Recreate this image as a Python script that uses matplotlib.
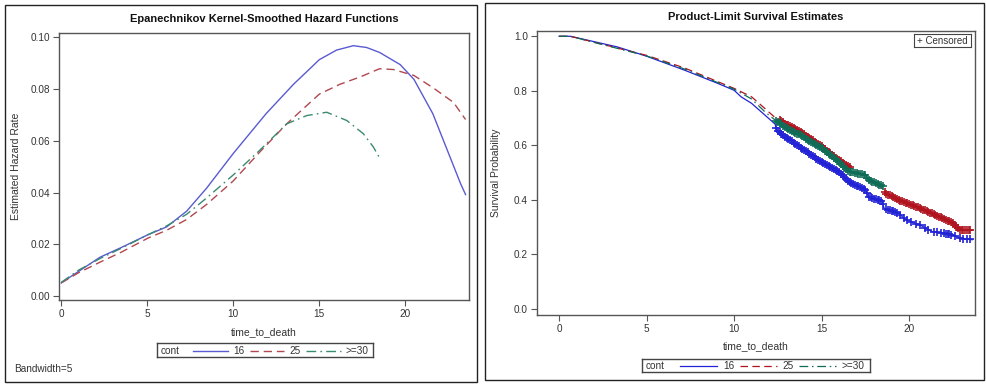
import numpy as np
import matplotlib
matplotlib.use("Agg")
import matplotlib.pyplot as plt
from matplotlib.patches import Rectangle
from matplotlib.lines import Line2D

plt.rcParams['font.family'] = ['Liberation Sans', 'DejaVu Sans']

# ---------------- data ----------------
groups = ['16', '25', '>=30']
legend_title = 'cont'

# Kernel-smoothed hazard (left panel)
haz_t16 = [0, 1, 2.25, 3.5, 5.04, 6.12, 7.29, 8.45, 10.0, 11.9, 13.5, 14.26, 15.0, 16.0,
           16.98, 17.75, 18.5, 19.7, 20.5, 21.6, 22.4, 23.2, 23.5]
haz_16 = [0.0051, 0.0095, 0.0150, 0.0188, 0.0237, 0.0267, 0.0328, 0.0417, 0.0551, 0.0704,
          0.0818, 0.0866, 0.0913, 0.0950, 0.0967, 0.0960, 0.0941, 0.0894, 0.0837, 0.0704,
          0.0570, 0.0436, 0.0392]
haz_t25 = [0, 1, 2.25, 3.5, 5.04, 6.12, 7.29, 8.45, 10.0, 11.55, 13.1, 15.0, 16.2, 17.4,
           18.5, 19.3, 20.5, 21.6, 22.8, 23.5]
haz_25 = [0.0051, 0.0090, 0.0131, 0.0170, 0.0224, 0.0254, 0.0296, 0.0354, 0.0445, 0.0557,
          0.0665, 0.0780, 0.0818, 0.0847, 0.0878, 0.0875, 0.0852, 0.0805, 0.0748, 0.0682]
haz_t30 = [0, 1, 2.25, 3.5, 5.04, 6.12, 7.29, 8.45, 10.0, 11.55, 13.1, 14.26, 15.43, 16.6,
           17.56, 18.14, 18.5]
haz_30 = [0.0053, 0.0100, 0.0145, 0.0185, 0.0237, 0.0271, 0.0316, 0.0379, 0.0468, 0.0564,
          0.0665, 0.0697, 0.0710, 0.0678, 0.0627, 0.0576, 0.0534]

# Product-limit survival (right panel)
surv_t16 = [0, 0.65, 3.33, 5.0, 7.16, 9.08, 10.0, 10.4, 11.0, 11.76, 12.34, 12.43, 12.9,
            13.87, 15.02, 15.98, 16.55, 17.5, 17.7, 18.47, 18.56, 19.4, 19.8, 20.6, 21.3,
            22.5, 22.9, 23.6]
surv_16 = [1.0, 1.0, 0.961, 0.927, 0.876, 0.827, 0.802, 0.778, 0.754, 0.711, 0.678, 0.656,
           0.632, 0.589, 0.537, 0.504, 0.467, 0.437, 0.412, 0.394, 0.370, 0.351, 0.327,
           0.309, 0.284, 0.272, 0.260, 0.254]
surv_t25 = [0, 0.65, 5.0, 7.16, 10.0, 11.0, 11.76, 12.34, 12.9, 13.87, 15.02, 15.98, 16.55,
            17.5, 18.47, 18.66, 19.4, 20.6, 21.3, 22.1, 22.5, 22.9, 23.6]
surv_25 = [1.0, 1.0, 0.930, 0.884, 0.809, 0.778, 0.735, 0.702, 0.680, 0.646, 0.595, 0.546,
           0.522, 0.488, 0.443, 0.424, 0.400, 0.370, 0.351, 0.327, 0.315, 0.290, 0.288]
surv_t30 = [0, 0.65, 5.0, 7.16, 10.0, 11.0, 11.76, 12.34, 12.9, 13.87, 15.02, 15.98, 16.55,
            17.5, 17.7, 18.47, 18.56]
surv_30 = [1.0, 1.0, 0.928, 0.880, 0.806, 0.770, 0.723, 0.693, 0.668, 0.634, 0.589, 0.540,
           0.504, 0.491, 0.473, 0.451, 0.449]

# censoring times
cens_16 = [12.4, 12.5, 12.6, 12.7, 12.8, 12.9, 13.0, 13.1, 13.2, 13.3, 13.4, 13.5, 13.6,
           13.7, 13.8, 13.9, 14.0, 14.1, 14.2, 14.3, 14.4, 14.5, 14.6, 14.7, 14.8, 14.9,
           15.0, 15.1, 15.2, 15.3, 15.4, 15.5, 15.6, 15.7, 15.8, 15.9, 16.0, 16.1, 16.2,
           16.3, 16.4, 16.5, 16.6, 16.7, 16.8, 16.9, 17.0, 17.1, 17.2, 17.3, 17.4, 17.5,
           17.6, 17.7, 17.8, 17.9, 18.0, 18.1, 18.2, 18.3, 18.4, 18.5, 18.7, 18.8, 18.9,
           19.0, 19.1, 19.2, 19.3, 19.5, 19.7, 19.9, 20.1, 20.4, 20.6, 20.9, 21.1, 21.4,
           21.6, 21.8, 22.0, 22.1, 22.2, 22.3, 22.4, 22.6, 22.9, 23.1, 23.3, 23.5]
cens_25 = [12.6, 12.7, 12.8, 12.9, 13.0, 13.1, 13.2, 13.3, 13.4, 13.5, 13.6, 13.7, 13.8,
           13.9, 14.0, 14.1, 14.2, 14.3, 14.4, 14.5, 14.6, 14.7, 14.8, 14.9, 15.0, 15.1,
           15.2, 15.3, 15.4, 15.5, 15.6, 15.7, 15.8, 15.9, 16.0, 16.1, 16.2, 16.3, 16.4,
           16.5, 16.6, 18.6, 18.7, 18.8, 18.9, 19.0, 19.1, 19.2, 19.3, 19.4, 19.5, 19.6,
           19.7, 19.8, 19.9, 20.0, 20.1, 20.2, 20.3, 20.4, 20.5, 20.6, 20.7, 20.8, 20.9,
           21.0, 21.1, 21.2, 21.3, 21.4, 21.5, 21.6, 21.7, 21.8, 21.9, 22.0, 22.1, 22.2,
           22.3, 22.4, 22.5, 22.6, 22.7, 22.8, 22.9, 23.0, 23.1, 23.2, 23.3, 23.4, 23.5]
cens_30 = [12.4, 12.5, 12.6, 12.7, 12.8, 12.9, 13.0, 13.1, 13.2, 13.3, 13.4, 13.5, 13.6,
           13.7, 13.8, 13.9, 14.0, 14.1, 14.2, 14.3, 14.4, 14.5, 14.6, 14.7, 14.8, 14.9,
           15.0, 15.1, 15.2, 15.3, 15.4, 15.5, 15.6, 15.7, 15.8, 15.9, 16.0, 16.1, 16.2,
           16.3, 16.4, 16.5, 16.6, 16.7, 16.8, 16.9, 17.0, 17.1, 17.2, 17.3, 17.4, 17.5,
           17.6, 17.7, 17.8, 17.9, 18.0, 18.1, 18.2, 18.3, 18.4, 18.5]

x_ticks = [0, 5, 10, 15, 20]
haz_yticks = [0.00, 0.02, 0.04, 0.06, 0.08, 0.10]
surv_yticks = [0.0, 0.2, 0.4, 0.6, 0.8, 1.0]

# ---------------- style ----------------
W, H = 986, 384
fig = plt.figure(figsize=(W / 100, H / 100), dpi=100)
TXT = '#333333'
SP = '#555555'
FS_TICK = 7.2
FS_LAB = 7.5
FS_TITLE = 8.0

haz_colors = ['#5a5ad2', '#b2474f', '#3a8a70']
surv_colors = ['#2323d6', '#b0141f', '#0f6d57']
styles = ['-', (0, (6, 3.5)), (0, (7, 3, 1.2, 3))]


def px_axes(x0, y0, x1, y1):
    return fig.add_axes([x0 / W, 1 - y1 / H, (x1 - x0) / W, (y1 - y0) / H])


def style_ax(ax):
    for s in ax.spines.values():
        s.set_color(SP)
        s.set_linewidth(1.0)
    ax.tick_params(direction='out', length=4, width=0.8, color=SP,
                   labelsize=FS_TICK, labelcolor=TXT, pad=2.5)


def border(x0, y0, x1, y1):
    fig.patches.append(Rectangle((x0 / W, 1 - y1 / H), (x1 - x0) / W, (y1 - y0) / H,
                                 transform=fig.transFigure, fill=False,
                                 edgecolor='#222222', linewidth=1.0))


def draw_legend(x0, y0, x1, y1, colors, lw):
    lax = px_axes(x0, y0, x1, y1)
    lax.set_xlim(x0, x1)
    lax.set_ylim(y1, y0)
    lax.set_xticks([])
    lax.set_yticks([])
    for s in lax.spines.values():
        s.set_color('#444444')
        s.set_linewidth(1.0)
    ym = (y0 + y1) / 2 + 0.5
    w = x1 - x0
    lax.text(x0 + 0.015 * w, ym, legend_title, fontsize=FS_TICK, color=TXT, va='center', ha='left')
    seg = [(0.165, 0.33), (0.43, 0.59), (0.69, 0.85)]
    for (a, b), c, ls, lab in zip(seg, colors, styles, groups):
        lax.add_line(Line2D([x0 + a * w, x0 + b * w], [ym, ym], color=c, linestyle=ls, lw=lw))
        lax.text(x0 + (b + 0.025) * w, ym, lab, fontsize=FS_TICK, color=TXT, va='center', ha='left')


# ---------------- left panel ----------------
border(5, 5, 477, 382)
ax1 = px_axes(59, 33, 469, 300)
style_ax(ax1)
for t, v, c, ls in zip([haz_t16, haz_t25, haz_t30], [haz_16, haz_25, haz_30], haz_colors, styles):
    ax1.plot(t, v, color=c, linestyle=ls, lw=1.0)
ax1.set_xlim(-0.13, 23.7)
ax1.set_ylim(-0.0015, 0.1016)
ax1.set_xticks(x_ticks)
ax1.set_xticklabels([str(v) for v in x_ticks])
ax1.set_yticks(haz_yticks)
ax1.set_yticklabels([f'{v:.2f}' for v in haz_yticks])
ax1.set_title('Epanechnikov Kernel-Smoothed Hazard Functions', fontsize=FS_TITLE,
              fontweight='bold', color='#111111', pad=8)
ax1.set_xlabel('time_to_death', fontsize=FS_LAB, color=TXT)
ax1.set_ylabel('Estimated Hazard Rate', fontsize=FS_LAB, color=TXT)
ax1.xaxis.set_label_coords(0.5, -0.10)
ax1.yaxis.set_label_coords(-0.092, 0.5)
draw_legend(157, 343, 373, 357, haz_colors, 1.0)
fig.text(14 / W, 1 - 369 / H, 'Bandwidth=5', fontsize=FS_TICK, color=TXT, va='center', ha='left')

# ---------------- right panel ----------------
border(485, 3, 984, 380)
ax2 = px_axes(537, 31, 975, 315)
style_ax(ax2)
for t, v, cens, c, ls in zip([surv_t16, surv_t25, surv_t30], [surv_16, surv_25, surv_30],
                             [cens_16, cens_25, cens_30], surv_colors, styles):
    ax2.plot(t, v, color=c, linestyle=ls, lw=0.9)
    cy = np.interp(cens, t, v)
    ax2.plot(cens, cy, linestyle='none', marker='+', markersize=6, mew=1.2, color=c)
ax2.set_xlim(-1.26, 23.76)
ax2.set_ylim(-0.022, 1.0194)
ax2.set_xticks(x_ticks)
ax2.set_xticklabels([str(v) for v in x_ticks])
ax2.set_yticks(surv_yticks)
ax2.set_yticklabels([f'{v:.1f}' for v in surv_yticks])
ax2.set_title('Product-Limit Survival Estimates', fontsize=FS_TITLE, fontweight='bold',
              color='#111111', pad=8)
ax2.set_xlabel('time_to_death', fontsize=FS_LAB, color=TXT)
ax2.set_ylabel('Survival Probability', fontsize=FS_LAB, color=TXT)
ax2.xaxis.set_label_coords(0.5, -0.092)
ax2.yaxis.set_label_coords(-0.082, 0.5)
draw_legend(642, 359, 870, 372, surv_colors, 0.9)

# censored box
cax = px_axes(914, 34, 971, 47)
cax.set_xticks([])
cax.set_yticks([])
for s in cax.spines.values():
    s.set_color('#444444')
cax.text(0.5, 0.45, '+ Censored', fontsize=7.0, color=TXT, ha='center', va='center',
         transform=cax.transAxes)

fig.savefig('out.png', dpi=100, facecolor='white')
